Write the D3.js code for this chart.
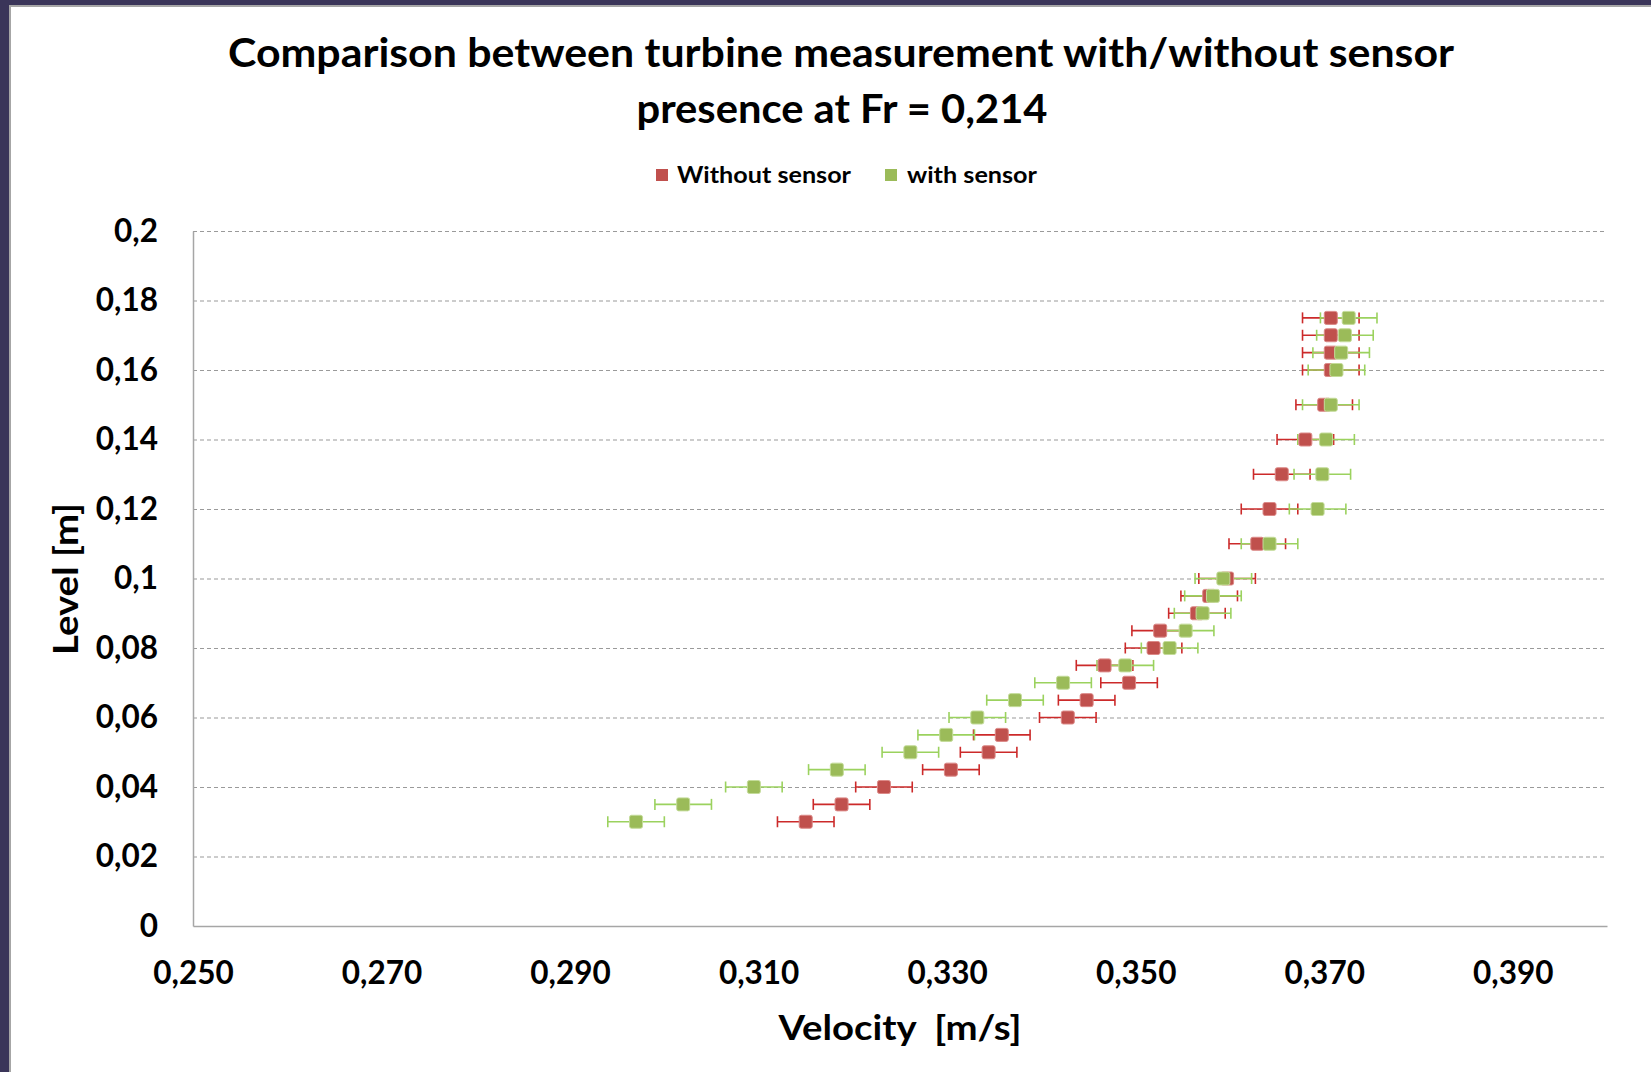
<!DOCTYPE html>
<html>
<head>
<meta charset="utf-8">
<script src="https://cdn.jsdelivr.net/npm/d3@7"></script>
<style>
  html, body { margin: 0; padding: 0; background: #fff; }
  svg { display: block; }
  text { font-family: Lato, "Open Sans", sans-serif; font-weight: bold; fill: #000; }
</style>
</head>
<body>
<svg id="chart" width="1651" height="1072"></svg>
<script>
// ---- data ----
const levels = [0.03, 0.035, 0.04, 0.045, 0.05, 0.055, 0.06, 0.065, 0.07, 0.075, 0.08, 0.085,
                0.09, 0.095, 0.1, 0.11, 0.12, 0.13, 0.14, 0.15, 0.16, 0.165, 0.17, 0.175];
const withoutSensor = [0.3150, 0.3188, 0.3233, 0.3304, 0.3344, 0.3358, 0.3428, 0.3448, 0.3493, 0.3467, 0.3519, 0.3526,
                       0.3565, 0.3578, 0.3597, 0.3629, 0.3642, 0.3655, 0.3680, 0.3700, 0.3707, 0.3707, 0.3707, 0.3707];
const withSensor = [0.2970, 0.3020, 0.3095, 0.3183, 0.3261, 0.3299, 0.3332, 0.3372, 0.3423, 0.3489, 0.3536, 0.3553,
                    0.3571, 0.3582, 0.3593, 0.3642, 0.3693, 0.3698, 0.3702, 0.3707, 0.3713, 0.3718, 0.3722, 0.3726];
const errorWithout = 0.003;
const errorWith = 0.003;
const seriesNames = ["Without sensor", "with sensor"];
const xTickValues = [0.25, 0.27, 0.29, 0.31, 0.33, 0.35, 0.37, 0.39];
const xTickLabels = ["0,250", "0,270", "0,290", "0,310", "0,330", "0,350", "0,370", "0,390"];
const yTickValues = [0, 0.02, 0.04, 0.06, 0.08, 0.1, 0.12, 0.14, 0.16, 0.18, 0.2];
const yTickLabels = ["0", "0,02", "0,04", "0,06", "0,08", "0,1", "0,12", "0,14", "0,16", "0,18", "0,2"];
const titleLines = ["Comparison between turbine measurement with/without sensor", "presence at Fr = 0,214"];
const xTitle = "Velocity\u00A0 [m/s]";
const yTitle = "Level [m]";

// ---- layout ----
const svg = d3.select("#chart");
const W = 1651, H = 1072;
const plotLeft = 193, plotRight = 1607, plotTop = 231, plotBottom = 926;

// frame
svg.append("rect").attr("x", 0).attr("y", 0).attr("width", W).attr("height", H).attr("fill", "#3a3559");
svg.append("rect").attr("x", 9).attr("y", 5).attr("width", W - 9).attr("height", H - 5).attr("fill", "#a6a6a6");
svg.append("rect").attr("x", 11).attr("y", 7).attr("width", W - 11).attr("height", H - 7).attr("fill", "#ffffff");

const x = d3.scaleLinear().domain([0.25, 0.40]).range([plotLeft, plotRight]);
const y = d3.scaleLinear().domain([0, 0.2]).range([plotBottom, plotTop]);

// gridlines
const grid = svg.append("g").attr("transform", `translate(${plotLeft},0)`)
  .call(d3.axisLeft(y).tickValues(yTickValues.filter(v => v > 0)).tickSize(-(plotRight - plotLeft)).tickFormat(""));
grid.select(".domain").remove();
grid.selectAll(".tick line").attr("stroke", "#9a9a9a").attr("stroke-width", 1.2).attr("stroke-dasharray", "4,3");

// axes
const yAxis = svg.append("g").attr("transform", `translate(${plotLeft},0)`)
  .call(d3.axisLeft(y).tickValues(yTickValues).tickSize(0).tickPadding(35)
    .tickFormat((d, i) => yTickLabels[i]));
yAxis.select(".domain").attr("stroke", "#a6a6a6").attr("stroke-width", 1.5);
yAxis.selectAll("text").style("font-size", "31.5px").style("font-family", "Lato").style("font-weight", "bold").attr("fill", "#000");

const xAxis = svg.append("g").attr("transform", `translate(0,${plotBottom})`)
  .call(d3.axisBottom(x).tickValues(xTickValues).tickSize(0).tickPadding(36)
    .tickFormat((d, i) => xTickLabels[i]));
xAxis.select(".domain").attr("stroke", "#a6a6a6").attr("stroke-width", 1.5);
xAxis.selectAll("text").style("font-size", "31.5px").style("font-family", "Lato").style("font-weight", "bold").attr("fill", "#000");

// data
const redData = levels.map((l, i) => ({ level: l, v: withoutSensor[i], e: errorWithout }));
const greenData = levels.map((l, i) => ({ level: l, v: withSensor[i], e: errorWith }));

function drawBars(data, color) {
  const g = svg.append("g").attr("stroke", color).attr("stroke-width", 1.6).attr("fill", "none");
  g.selectAll("line.bar").data(data).join("line").attr("class", "bar")
    .attr("x1", d => x(d.v - d.e)).attr("x2", d => x(d.v + d.e))
    .attr("y1", d => y(d.level)).attr("y2", d => y(d.level));
  g.selectAll("line.capl").data(data).join("line").attr("class", "capl")
    .attr("x1", d => x(d.v - d.e)).attr("x2", d => x(d.v - d.e))
    .attr("y1", d => y(d.level) - 5.5).attr("y2", d => y(d.level) + 5.5);
  g.selectAll("line.capr").data(data).join("line").attr("class", "capr")
    .attr("x1", d => x(d.v + d.e)).attr("x2", d => x(d.v + d.e))
    .attr("y1", d => y(d.level) - 5.5).attr("y2", d => y(d.level) + 5.5);
}
function drawMarkers(data, fill, stroke) {
  const s = 13;
  svg.append("g").selectAll("rect").data(data).join("rect")
    .attr("x", d => x(d.v) - s / 2).attr("y", d => y(d.level) - s / 2)
    .attr("width", s).attr("height", s).attr("rx", 2)
    .attr("fill", fill).attr("stroke", stroke).attr("stroke-width", 1);
}
drawBars(redData, "#cc2a2a");
drawBars(greenData, "#9bd25e");
drawMarkers(redData, "#c0504d", "#dc8a88");
drawMarkers(greenData, "#9bbb59", "#c4dc9a");

// title
svg.append("text").attr("x", 841).attr("y", 67).attr("text-anchor", "middle")
  .style("font-size", "41px").attr("textLength", 1226).attr("lengthAdjust", "spacingAndGlyphs").text(titleLines[0]);
svg.append("text").attr("x", 842).attr("y", 123).attr("text-anchor", "middle")
  .style("font-size", "41px").attr("textLength", 411).attr("lengthAdjust", "spacingAndGlyphs").text(titleLines[1]);

// legend
const legendItems = [
  { name: seriesNames[0], color: "#c0504d", sx: 662, tx: 677, tw: 174 },
  { name: seriesNames[1], color: "#9bbb59", sx: 891, tx: 907, tw: 130 }
];
const lg = svg.append("g");
legendItems.forEach(it => {
  lg.append("rect").attr("x", it.sx - 6).attr("y", 175 - 6).attr("width", 12).attr("height", 12).attr("fill", it.color);
  lg.append("text").attr("x", it.tx).attr("y", 183).style("font-size", "23px")
    .attr("textLength", it.tw).attr("lengthAdjust", "spacingAndGlyphs").text(it.name);
});

// axis titles
svg.append("text").attr("x", 900).attr("y", 1040).attr("text-anchor", "middle")
  .style("font-size", "34px").attr("textLength", 243).attr("lengthAdjust", "spacingAndGlyphs").text(xTitle);
svg.append("text").attr("transform", "translate(78,579) rotate(-90)").attr("text-anchor", "middle")
  .style("font-size", "34px").attr("textLength", 152).attr("lengthAdjust", "spacingAndGlyphs").text(yTitle);
</script>
</body>
</html>
